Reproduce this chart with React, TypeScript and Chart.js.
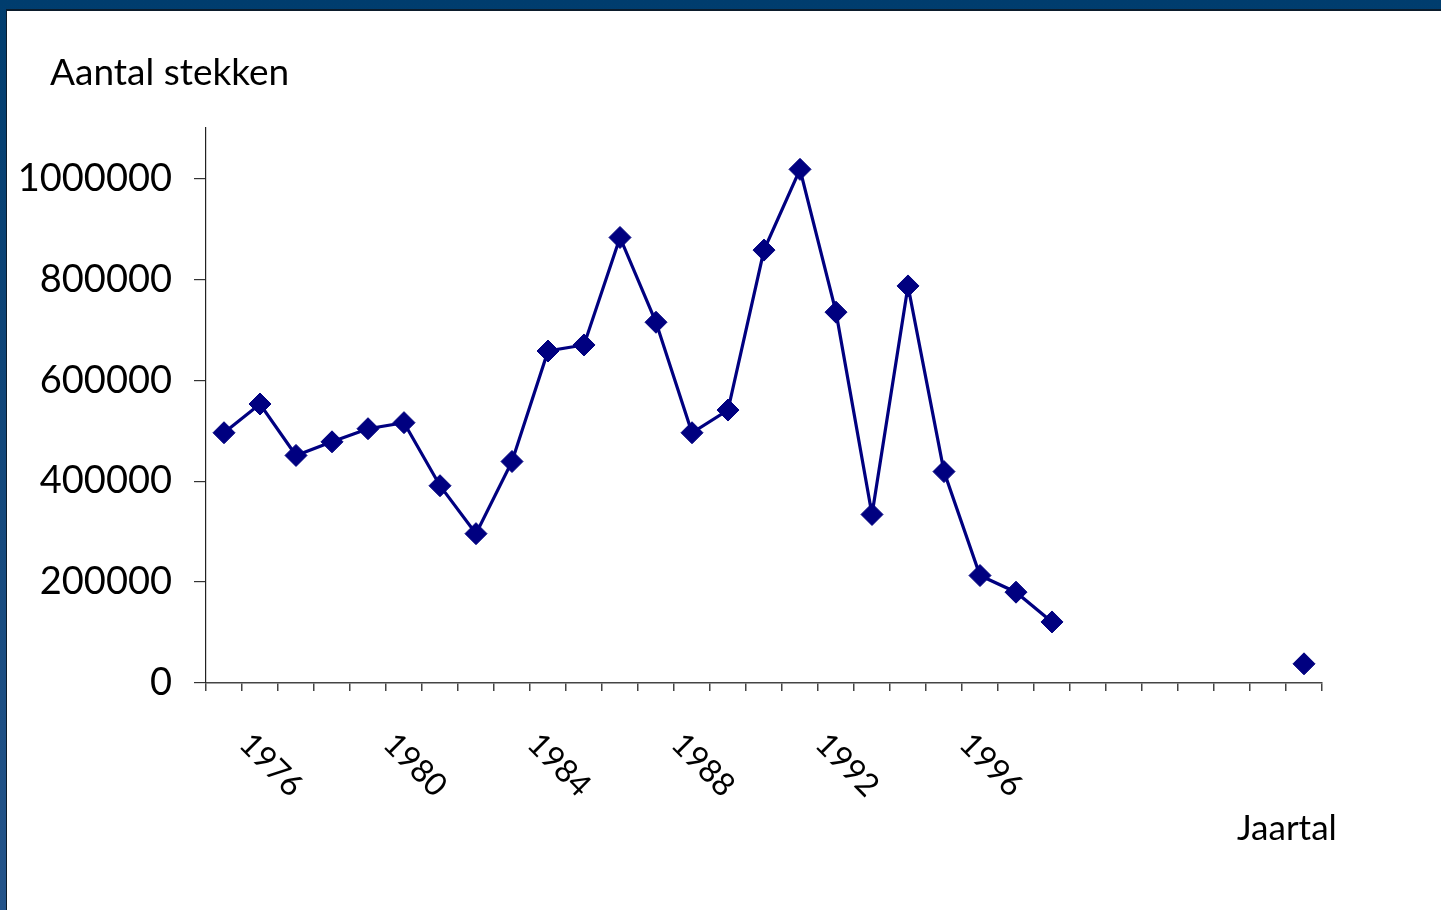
import React, { useEffect, useRef } from "react";
import { Chart, registerables } from "chart.js";

Chart.register(...registerables);

const years: string[] = [
  "1975", "1976", "1977", "1978", "1979", "1980", "1981", "1982", "1983", "1984",
  "1985", "1986", "1987", "1988", "1989", "1990", "1991", "1992", "1993", "1994",
  "1995", "1996", "1997", "1998", "1999", "2000", "2001", "2002", "2003", "2004", "2005",
];

const stekken: (number | null)[] = [
  496000, 553000, 451000, 478000, 504000, 516000, 391000, 296000, 439000, 658000,
  670000, 883000, 715000, 496000, 541000, 858000, 1018000, 735000, 334000, 787000,
  419000, 213000, 180000, 121000, null, null, null, null, null, null, 38000,
];

const xTickLabels: string[] = ["1976", "1980", "1984", "1988", "1992", "1996"];
const yTickValues: number[] = [0, 200000, 400000, 600000, 800000, 1000000];

const FONT = "Lato, 'Open Sans', sans-serif";

const rotatedXLabels = {
  id: "rotatedXLabels",
  afterDraw(chart: any) {
    const ctx = chart.ctx;
    const xs = chart.scales.x;
    ctx.save();
    ctx.fillStyle = "#000";
    ctx.font = `32px ${FONT}`;
    ctx.textAlign = "center";
    ctx.textBaseline = "middle";
    xTickLabels.forEach((lab) => {
      const i = years.indexOf(lab);
      if (i < 0) return;
      const x = xs.getPixelForValue(i);
      ctx.save();
      ctx.translate(x + 11, 754);
      ctx.rotate(Math.PI / 4);
      ctx.fillText(lab, 0, 0);
      ctx.restore();
    });
    ctx.restore();
  },
};

export default function App() {
  const ref = useRef<HTMLCanvasElement | null>(null);

  useEffect(() => {
    if (!ref.current) return;
    const chart = new Chart(ref.current, {
      type: "line",
      data: {
        labels: years,
        datasets: [
          {
            label: "Aantal stekken",
            data: stekken,
            borderColor: "#000080",
            backgroundColor: "#000080",
            borderWidth: 3.2,
            pointStyle: "rectRot",
            pointRadius: 11,
            pointBackgroundColor: "#000080",
            pointBorderColor: "#000080",
            pointBorderWidth: 1,
            spanGaps: false,
            tension: 0,
          },
        ],
      },
      options: {
        responsive: false,
        animation: false,
        layout: { padding: { left: 0, right: 119, top: 117, bottom: 0 } },
        plugins: {
          legend: { display: false },
          tooltip: { enabled: false },
          title: { display: false },
        },
        scales: {
          x: {
            type: "category",
            offset: true,
            grid: {
              offset: true,
              drawOnChartArea: false,
              drawTicks: true,
              tickLength: 8,
              color: "#444",
              lineWidth: 1.5,
            },
            border: { display: true, color: "#444", width: 1.5 },
            ticks: { display: false, autoSkip: false },
            afterFit: (scale: any) => {
              scale.height = 227;
            },
          },
          y: {
            min: 0,
            max: 1100000,
            grid: {
              drawOnChartArea: false,
              drawTicks: true,
              tickLength: 12,
              color: "#333",
              lineWidth: 1.2,
            },
            border: { display: true, color: "#222", width: 1.2 },
            ticks: {
              stepSize: 200000,
              padding: 22,
              color: "#000",
              font: { family: FONT, size: 38 },
              callback: (v: any) => String(v),
            },
            afterBuildTicks: (scale: any) => {
              scale.ticks = yTickValues.map((v) => ({ value: v }));
            },
            afterFit: (scale: any) => {
              scale.width = 199;
            },
          },
        },
      },
      plugins: [rotatedXLabels],
    });
    return () => chart.destroy();
  }, []);

  return (
    <div
      style={{
        position: "fixed",
        left: 0,
        top: 0,
        width: 1441,
        height: 910,
        background: "linear-gradient(to bottom, #003d6e 0%, #0f4578 40%, #24548a 100%)",
        overflow: "hidden",
      }}
    >
      <div
        style={{
          position: "absolute",
          left: 6,
          top: 9,
          right: 0,
          bottom: 0,
          background: "#fff",
          borderTop: "2px solid #0b1c2c",
          borderLeft: "1px solid #0b1c2c",
        }}
      />
      <canvas
        ref={ref}
        width={1434}
        height={899}
        style={{ position: "absolute", left: 7, top: 11, width: 1434, height: 899 }}
      />
      <div
        style={{
          position: "absolute",
          left: 50,
          top: 49,
          fontFamily: FONT,
          fontSize: 37,
          color: "#000",
          lineHeight: "44px",
          whiteSpace: "nowrap",
        }}
      >
        Aantal stekken
      </div>
      <div
        style={{
          position: "absolute",
          left: 1237,
          top: 804,
          fontFamily: FONT,
          fontSize: 35,
          color: "#000",
          lineHeight: "44px",
          whiteSpace: "nowrap",
        }}
      >
        Jaartal
      </div>
    </div>
  );
}
